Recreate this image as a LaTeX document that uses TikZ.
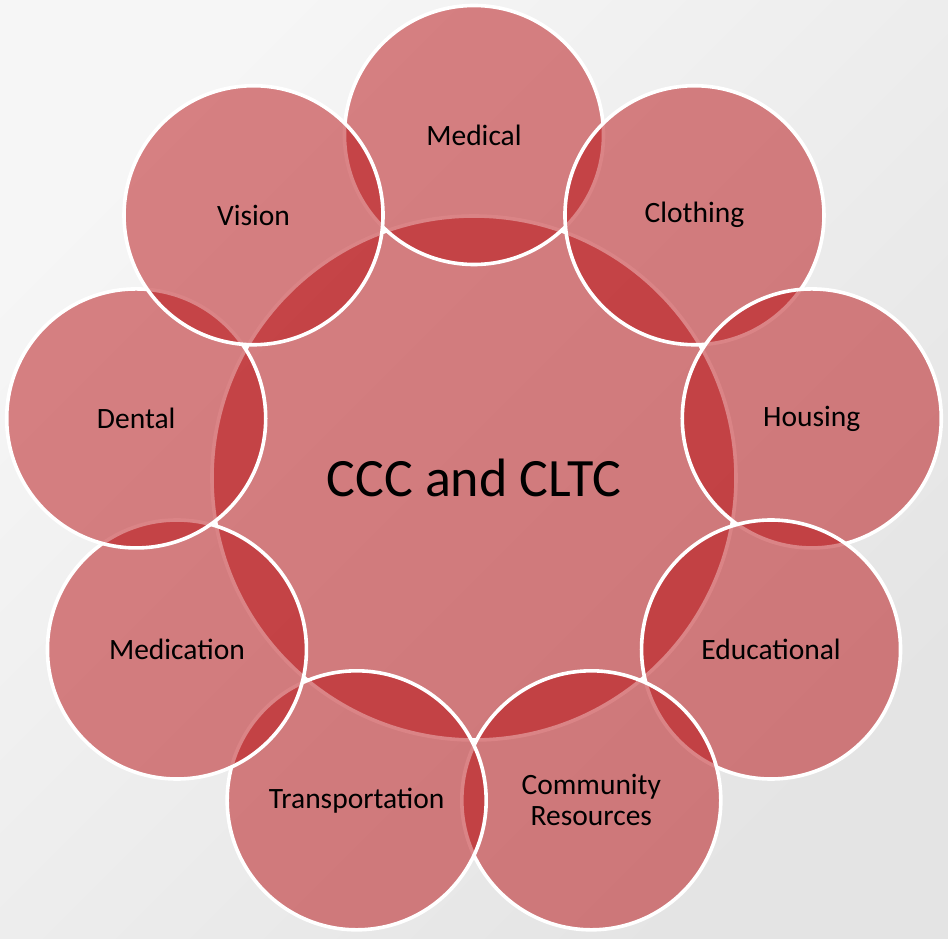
\documentclass[tikz,border=0pt]{standalone}
\usepackage{fontspec}
\setmainfont{Carlito}
\definecolor{bubblered}{RGB}{183,11,15}
\definecolor{bglight}{RGB}{246,246,246}
\definecolor{bgdark}{RGB}{228,228,228}

\begin{document}
\begin{tikzpicture}[x=1pt,y=1pt,
  bubble/.style={circle, draw=white, line width=3.6pt, fill=bubblered,
    fill opacity=0.5, text opacity=1, inner sep=0pt, minimum size=259pt,
    align=center, font=\fontsize{29.5}{31}\selectfont},
  hub/.style={bubble, minimum size=524pt, font=\fontsize{54}{60}\selectfont}]

  % page and background
  \useasboundingbox (-474,-461) rectangle (474,478);
  \shade[top color=bglight, bottom color=bgdark, shading angle=45]
    (-474,-461) rectangle (474,478);

  % centre
  \node[hub] (ccc) at (0,0) {CCC and CLTC};

  % ring, clockwise from the top
  \node[bubble] (medical) at (90:343pt) {Medical};
  \node[bubble] (clothing) at (50:343pt) {Clothing};
  \node[bubble] (housing) at (10:343pt) {Housing};
  \node[bubble] (educational) at (-30:343pt) {Educational};
  \node[bubble] (community) at (-70:343pt) {Community\\Resources};
  \node[bubble] (transport) at (-110:343pt) {Transportation};
  \node[bubble] (medication) at (-150:343pt) {Medication};
  \node[bubble] (dental) at (170:343pt) {Dental};
  \node[bubble] (vision) at (130:343pt) {Vision};

\end{tikzpicture}
\end{document}
